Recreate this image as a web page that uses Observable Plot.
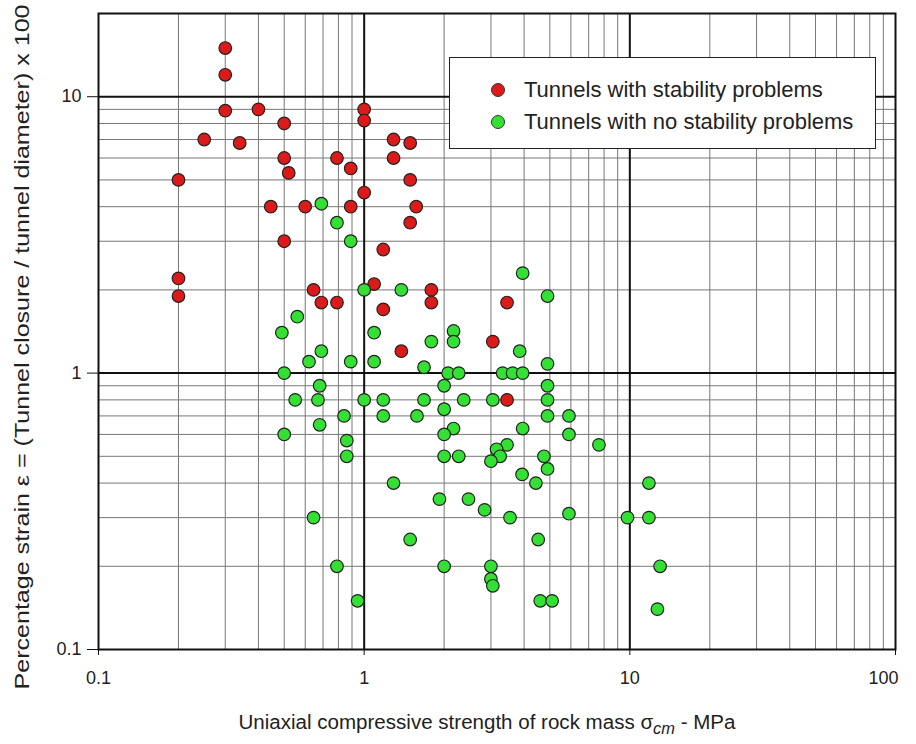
<!DOCTYPE html>
<html>
<head>
<meta charset="utf-8">
<script src="https://cdn.jsdelivr.net/npm/d3@7"></script>
<script src="https://cdn.jsdelivr.net/npm/@observablehq/plot@0.6"></script>
<style>
  html, body { margin: 0; padding: 0; background: #fff; }
  #wrap { position: relative; width: 916px; height: 744px; font-family: "Liberation Sans", Arial, sans-serif; }
  #legend {
    position: absolute; left: 449px; top: 57px; width: 425px; height: 90px;
    border: 1.5px solid #222; background: #fff; box-sizing: content-box;
  }
  .item { position: absolute; left: 0; height: 30px; display: flex; align-items: center; font-size: 22px; color: #222; white-space: nowrap; }
  .sw { width: 12px; height: 12px; border-radius: 50%; border: 1px solid #333; margin-left: 41px; margin-right: 19px; }
</style>
</head>
<body>
<div id="wrap"></div>
<script>
// Tunnels with stability problems (red)
const redX = [0.3, 0.3, 0.3, 0.4, 0.25, 0.34, 0.5, 0.5, 0.52, 0.2, 0.445, 0.6, 0.5, 0.2, 0.2,
  0.645, 0.69, 0.79, 0.79, 0.89, 0.89, 1.0, 1.0, 1.0, 1.09, 1.18, 1.18, 1.29, 1.29, 1.49,
  1.49, 1.57, 1.49, 1.38, 1.79, 1.79, 3.05, 3.45, 3.45];
const redY = [15, 12, 8.9, 9, 7, 6.8, 8, 6, 5.3, 5, 4, 4, 3, 2.2, 1.9,
  2, 1.8, 1.8, 6, 5.5, 4, 9, 8.2, 4.5, 2.1, 2.8, 1.7, 7, 6, 6.8,
  5, 4, 3.5, 1.2, 2, 1.8, 1.3, 1.8, 0.8];

// Tunnels with no stability problems (green)
const greenX = [0.69, 0.79, 0.89, 0.56, 0.49, 0.69, 0.62, 0.89, 1.0, 1.09, 1.09, 1.38, 0.5, 0.68,
  0.55, 0.67, 1.0, 1.18, 0.84, 1.18, 0.68, 0.5, 0.86, 0.86, 1.29, 0.645, 0.79, 0.945, 1.49,
  1.68, 1.68, 1.58, 1.79, 2.17, 2.17, 2.07, 2.27, 2.0, 2.0, 2.37, 2.17, 2.0, 2.0, 2.27, 1.92,
  2.47, 2.84, 2.0, 3.0, 3.0, 3.05, 3.05, 3.32, 3.62, 3.95, 3.85, 3.95, 4.9, 4.9, 4.9, 4.9,
  4.9, 3.95, 3.45, 3.15, 3.25, 3.0, 4.75, 4.9, 3.93, 4.43, 3.54, 4.52, 4.6, 5.1, 5.9, 5.9,
  5.9, 7.65, 9.8, 11.8, 11.8, 13.0, 12.7];
const greenY = [4.1, 3.5, 3, 1.6, 1.4, 1.2, 1.1, 1.1, 2, 1.4, 1.1, 2, 1.0, 0.9,
  0.8, 0.8, 0.8, 0.8, 0.7, 0.7, 0.65, 0.6, 0.57, 0.5, 0.4, 0.3, 0.2, 0.15, 0.25,
  1.05, 0.8, 0.7, 1.3, 1.42, 1.3, 1.0, 1.0, 0.9, 0.74, 0.8, 0.63, 0.6, 0.5, 0.5, 0.35,
  0.35, 0.32, 0.2, 0.2, 0.18, 0.17, 0.8, 1.0, 1.0, 1.0, 1.2, 2.3, 1.9, 1.08, 0.9, 0.8,
  0.7, 0.63, 0.55, 0.53, 0.5, 0.48, 0.5, 0.45, 0.43, 0.4, 0.3, 0.25, 0.15, 0.15, 0.7, 0.6,
  0.31, 0.55, 0.3, 0.4, 0.3, 0.2, 0.14];

const seriesNames = ["Tunnels with stability problems", "Tunnels with no stability problems"];
const seriesColors = ["#dc1a1a", "#33e033"];

const xTicks = [0.1, 1, 10, 100];
const yTicks = [0.1, 1, 10];
const xMinor = [0.2,0.3,0.4,0.5,0.6,0.7,0.8,0.9, 2,3,4,5,6,7,8,9, 20,30,40,50,60,70,80,90];
const yMinor = [0.2,0.3,0.4,0.5,0.6,0.7,0.8,0.9, 2,3,4,5,6,7,8,9];
const xMajorInner = [1, 10];
const yMajorInner = [1, 10];

const xTitle = "Uniaxial compressive strength of rock mass σ";
const xTitleSub = "cm";
const xTitleEnd = " - MPa";
const yTitle = "Percentage strain ε = (Tunnel closure / tunnel diameter) x 100";

const points = [
  ...redX.map((x, i) => ({x, y: redY[i], s: seriesNames[0]})),
  ...greenX.map((x, i) => ({x, y: greenY[i], s: seriesNames[1]}))
];

const chart = Plot.plot({
  width: 916,
  height: 744,
  marginLeft: 98,
  marginRight: 21,
  marginTop: 13,
  marginBottom: 95,
  style: {fontFamily: "'Liberation Sans', Arial, sans-serif", background: "#fff", color: "#222"},
  x: {type: "log", domain: [0.1, 100]},
  y: {type: "log", domain: [0.1, 20]},
  color: {domain: seriesNames, range: seriesColors},
  marks: [
    Plot.ruleX(xMinor, {stroke: "#777", strokeWidth: 1}),
    Plot.ruleY(yMinor, {stroke: "#777", strokeWidth: 1}),
    Plot.ruleX(xMajorInner, {stroke: "#111", strokeWidth: 2}),
    Plot.ruleY(yMajorInner, {stroke: "#111", strokeWidth: 2}),
    Plot.frame({stroke: "#111", strokeWidth: 2}),
    Plot.axisX(xTicks, {tickSize: 6, tickPadding: 16, fontSize: 18, tickFormat: d => String(d), label: null, stroke: "#111"}),
    Plot.axisY(yTicks, {tickSize: 11, tickPadding: 6, fontSize: 18, tickFormat: d => String(d), label: null, stroke: "#111"}),
    Plot.dot(points, {x: "x", y: "y", fill: "s", r: 6.3, stroke: "#222", strokeWidth: 1.2})
  ]
});

const wrap = document.getElementById("wrap");
wrap.appendChild(chart);

const svg = d3.select(chart);
// nudge the last x tick label inward, as in the original
svg.selectAll("text").filter(function() { return this.textContent === "100"; }).attr("dx", -12);

const xt = svg.append("text")
  .attr("x", 487).attr("y", 729)
  .attr("text-anchor", "middle")
  .attr("font-size", 20).attr("fill", "#222")
  .attr("textLength", 497).attr("lengthAdjust", "spacingAndGlyphs");
xt.append("tspan").text(xTitle);
xt.append("tspan").text(xTitleSub).attr("font-style", "italic").attr("font-size", 16).attr("dy", 5);
xt.append("tspan").text(xTitleEnd).attr("dy", -5);

svg.append("text")
  .attr("transform", "translate(29,347) rotate(-90)")
  .attr("text-anchor", "middle")
  .attr("font-size", 21).attr("fill", "#222")
  .attr("textLength", 685).attr("lengthAdjust", "spacingAndGlyphs")
  .text(yTitle);

// Legend
const legend = document.createElement("div");
legend.id = "legend";
seriesNames.forEach((name, i) => {
  const it = document.createElement("div");
  it.className = "item";
  it.style.top = (17 + i * 32) + "px";
  const sw = document.createElement("span");
  sw.className = "sw";
  sw.style.background = seriesColors[i];
  it.appendChild(sw);
  it.appendChild(document.createTextNode(name));
  legend.appendChild(it);
});
wrap.appendChild(legend);
</script>
</body>
</html>
